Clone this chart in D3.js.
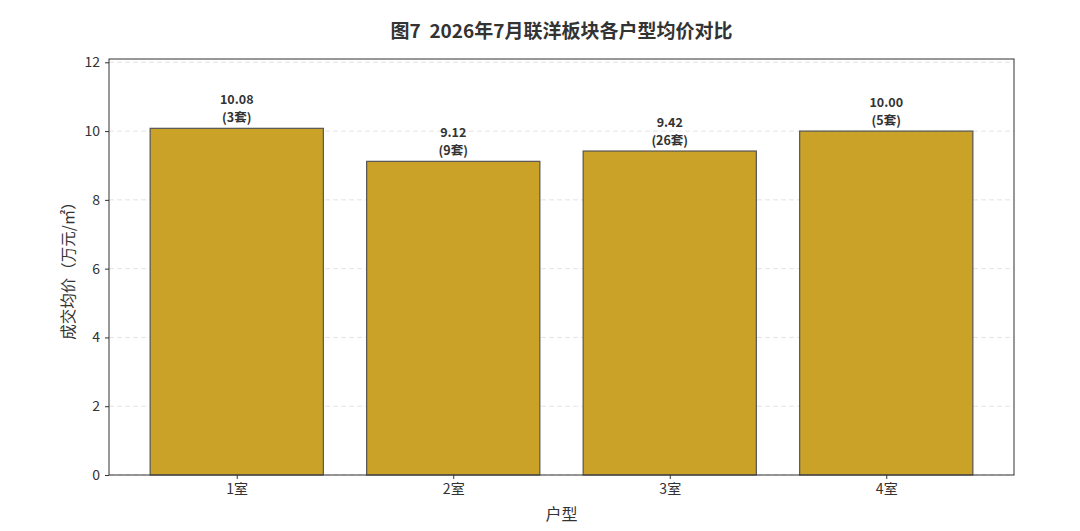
<!DOCTYPE html>
<html>
<head>
<meta charset="utf-8">
<script src="https://cdn.jsdelivr.net/npm/d3@7/dist/d3.min.js"></script>
<style>
  body { margin: 0; background: #fff; }
  text { font-family: "Noto Sans CJK SC", "Noto Sans", sans-serif; fill: #333; }
</style>
</head>
<body>
<script>
// Data
const rooms = ["1室", "2室", "3室", "4室"];
const prices = [10.08, 9.12, 9.42, 10.00];
const counts = [3, 9, 26, 5];
const yTicks = [0, 2, 4, 6, 8, 10, 12];

const width = 1080, height = 531;
const margin = { left: 109, right: 66, top: 59, bottom: 56 };
const plotW = width - margin.left - margin.right;
const plotH = height - margin.top - margin.bottom;

const svg = d3.select("body").append("svg")
  .attr("width", width)
  .attr("height", height);

const g = svg.append("g")
  .attr("transform", `translate(${margin.left},${margin.top})`);

// x as a linear scale over bar index, like matplotlib with 5% margins
const x = d3.scaleLinear().domain([-0.59, 3.59]).range([0, plotW]);
const barW = x(0.8) - x(0);
const y = d3.scaleLinear().domain([0, d3.max(prices) * 1.2]).range([plotH, 0]);

// gridlines
g.selectAll(".grid")
  .data(yTicks)
  .enter().append("line")
  .attr("x1", 0).attr("x2", plotW)
  .attr("y1", d => y(d)).attr("y2", d => y(d))
  .attr("stroke", "#ddd")
  .attr("stroke-width", 0.8)
  .attr("stroke-dasharray", "5,3");

// bars
g.selectAll(".bar")
  .data(prices)
  .enter().append("rect")
  .attr("x", (d, i) => x(i) - barW / 2)
  .attr("y", d => y(d))
  .attr("width", barW)
  .attr("height", d => plotH - y(d))
  .attr("fill", "#C9A227")
  .attr("stroke", "#555")
  .attr("stroke-width", 1.2);

// value labels, two lines each
prices.forEach((d, i) => {
  g.append("text")
    .attr("x", x(i))
    .attr("y", y(d) - 24)
    .attr("text-anchor", "middle")
    .attr("font-size", "12.5px")
    .attr("font-weight", "bold")
    .text(d.toFixed(2));
  g.append("text")
    .attr("x", x(i))
    .attr("y", y(d) - 6)
    .attr("text-anchor", "middle")
    .attr("font-size", "12.5px")
    .attr("font-weight", "bold")
    .text(`(${counts[i]}套)`);
});

// axes
const yAxis = g.append("g")
  .call(d3.axisLeft(y).tickValues(yTicks).tickSize(4).tickPadding(5));
yAxis.selectAll("text").attr("font-size", "14px");

const xAxis = g.append("g")
  .attr("transform", `translate(0,${plotH})`)
  .call(d3.axisBottom(x).tickValues(d3.range(rooms.length)).tickFormat(i => rooms[i]).tickSize(4).tickPadding(5));
xAxis.selectAll("text").attr("font-size", "14px");
g.selectAll(".domain").remove();
g.selectAll(".tick line").attr("stroke", "#333");

// frame
g.append("rect")
  .attr("width", plotW).attr("height", plotH)
  .attr("fill", "none")
  .attr("stroke", "#333")
  .attr("stroke-width", 1);

// title and axis labels
svg.append("text")
  .attr("x", margin.left + plotW / 2)
  .attr("y", 38)
  .attr("text-anchor", "middle")
  .attr("font-size", "19px")
  .attr("font-weight", "bold")
  .style("white-space", "pre")
  .text("图7  2026年7月联洋板块各户型均价对比");

svg.append("text")
  .attr("x", margin.left + plotW / 2)
  .attr("y", 520)
  .attr("text-anchor", "middle")
  .attr("font-size", "16px")
  .text("户型");

svg.append("text")
  .attr("transform", `translate(74,${margin.top + plotH / 2}) rotate(-90)`)
  .attr("text-anchor", "middle")
  .attr("font-size", "15.5px")
  .text("成交均价（万元/㎡）");
</script>
</body>
</html>
